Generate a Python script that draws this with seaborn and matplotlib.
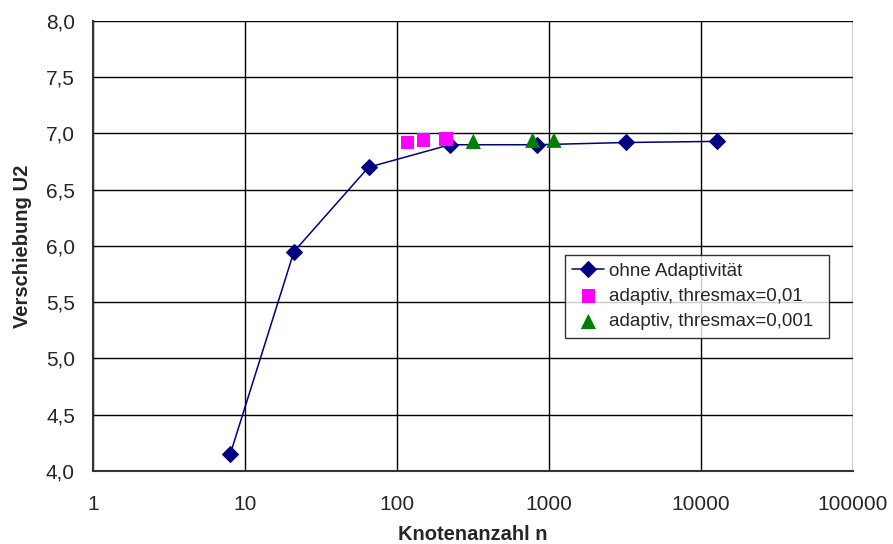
import numpy as np
import pandas as pd
import matplotlib
matplotlib.use("Agg")
import matplotlib.pyplot as plt
import seaborn as sns
from matplotlib.ticker import FixedLocator, FuncFormatter

# ohne Adaptivität
n_ohne = [8, 21, 65, 223, 834, 3211, 12740]
u_ohne = [4.15, 5.95, 6.70, 6.90, 6.90, 6.92, 6.93]

# adaptiv, thresmax=0,01
n_a01 = [117, 149, 210]
u_a01 = [6.92, 6.94, 6.95]

# adaptiv, thresmax=0,001
n_a001 = [318, 781, 1079]
u_a001 = [6.93, 6.94, 6.94]

x_ticks = [1, 10, 100, 1000, 10000, 100000]
y_ticks = [4.0, 4.5, 5.0, 5.5, 6.0, 6.5, 7.0, 7.5, 8.0]

sns.set_style("white")
plt.rcParams["font.family"] = ["Liberation Sans", "DejaVu Sans"]

df_ohne = pd.DataFrame({"n": n_ohne, "u": u_ohne})
df_a01 = pd.DataFrame({"n": n_a01, "u": u_a01})
df_a001 = pd.DataFrame({"n": n_a001, "u": u_a001})

fig = plt.figure(figsize=(8.93, 5.44), dpi=100)
ax = fig.add_axes([0.1041, 0.1342, 0.8511, 0.8272])

sns.lineplot(data=df_ohne, x="n", y="u", ax=ax, color="#000080", lw=1.1,
             marker="D", markersize=8.5, markeredgecolor="#000080",
             label="ohne Adaptivität", zorder=3)
sns.scatterplot(data=df_a01, x="n", y="u", ax=ax, color="#FF00FF", marker="s",
                s=95, edgecolor="none", label="adaptiv, thresmax=0,01", zorder=4)
sns.scatterplot(data=df_a001, x="n", y="u", ax=ax, color="#008000", marker="^",
                s=120, edgecolor="none", label="adaptiv, thresmax=0,001", zorder=5)

ax.set_xscale("log")
ax.set_xlim(1, 100000)
ax.set_ylim(4.0, 8.0)
ax.xaxis.set_major_locator(FixedLocator(x_ticks))
ax.xaxis.set_minor_locator(FixedLocator([]))
ax.xaxis.set_major_formatter(FuncFormatter(lambda v, p: f"{v:.0f}"))
ax.yaxis.set_major_locator(FixedLocator(y_ticks))
ax.yaxis.set_major_formatter(FuncFormatter(lambda v, p: f"{v:.1f}".replace(".", ",")))

ax.grid(True, color="black", lw=1.0)
ax.set_axisbelow(True)
for side in ["top", "right"]:
    ax.spines[side].set_visible(False)
for side in ["left", "bottom"]:
    ax.spines[side].set_color("#333333")
    ax.spines[side].set_linewidth(1.5)

ax.tick_params(axis="both", direction="out", length=6, width=1, color="#333333",
               labelsize=15, pad=7)
ax.tick_params(axis="x", pad=11)
ax.set_xlabel("Knotenanzahl n", fontsize=14.5, fontweight="bold", labelpad=8)
ax.set_ylabel("Verschiebung U2", fontsize=14.5, fontweight="bold", labelpad=10)

leg = ax.legend(loc="upper left", bbox_to_anchor=(0.621, 0.48, 0.347, 0.0),
                mode="expand", fontsize=13.5, frameon=True, fancybox=False,
                edgecolor="black", borderaxespad=0, handlelength=1.7,
                handletextpad=0.25, labelspacing=0.44, borderpad=0.4)
leg.get_frame().set_linewidth(1.0)

fig.savefig("out.png", dpi=100, facecolor="white")
